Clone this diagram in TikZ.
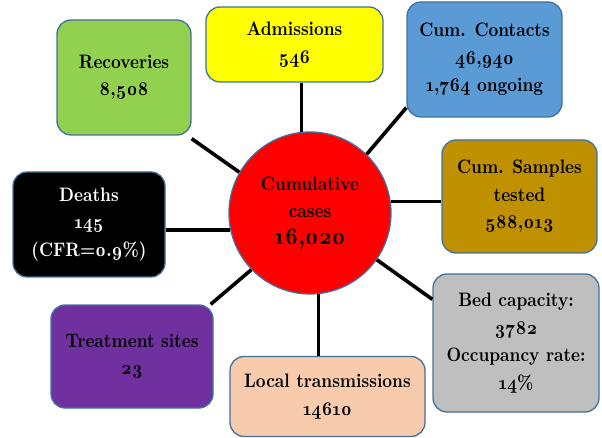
\documentclass[tikz,border=0pt]{standalone}
\usepackage{fontspec}
\newfontfamily\lmb{lmroman10-bold.otf}[Numbers=OldStyle, FakeStretch=0.87]
\definecolor{edge}{HTML}{41719C}
\definecolor{cgreen}{HTML}{92D050}
\definecolor{cyellow}{HTML}{FFFF00}
\definecolor{cblue}{HTML}{5B9BD5}
\definecolor{cgold}{HTML}{BF9000}
\definecolor{cgray}{HTML}{BFBFBF}
\definecolor{cpeach}{HTML}{F8CBAD}
\definecolor{cpurple}{HTML}{7030A0}
\definecolor{cred}{HTML}{FF0000}
\tikzset{
  box/.style={draw=edge, line width=1.3pt, rounded corners=14pt, align=center,
    font=\lmb\fontsize{19.5}{27.5}\selectfont, inner sep=0pt},
  link/.style={line width=3.6pt, black},
}
\begin{document}
\begin{tikzpicture}[x=1pt,y=-1pt]
\useasboundingbox (0,0) rectangle (602,438);
\node[circle, draw=edge, line width=1.3pt, fill=cred, minimum size=162pt, inner sep=0pt, align=center,
  font=\lmb\fontsize{19.5}{27.5}\selectfont] (c) at (310,213)
  {Cumulative\\cases\\[-1pt]{\fontsize{24}{28}\selectfont 16,020}};
\node[box, fill=cgreen, minimum width=134pt, minimum height=115pt] (rec) at (124,77.5) {Recoveries\\8,508};
\node[box, fill=cyellow, minimum width=177pt, minimum height=75pt] (adm) at (294.5,44.5) {Admissions\\546};
\node[box, fill=cblue, minimum width=155pt, minimum height=115pt] (con) at (484.5,59.5) {Cum. Contacts\\46,940\\1,764 ongoing};
\node[box, fill=cgold, minimum width=155pt, minimum height=113pt] (sam) at (519.5,196.5) {Cum. Samples\\tested\\588,013};
\node[box, fill=cgray, minimum width=166pt, minimum height=138pt] (bed) at (516,343) {Bed capacity:\\3782\\Occupancy rate:\\14\%};
\node[box, fill=cpeach, minimum width=195pt, minimum height=80pt] (loc) at (327.5,396.5) {Local transmissions\\14610};
\node[box, fill=cpurple, minimum width=162pt, minimum height=103pt] (tre) at (132,356.5) {Treatment sites\\23};
\node[box, fill=black, text=white, minimum width=152pt, minimum height=105pt] (dea) at (89,224.5) {Deaths\\145\\(CFR=0.9\%)};
\draw[link] (c.150) -- ([shift={(0,3)}]rec.south east);
\draw[link] (c.96) -- (c.96 |- adm.south);
\draw[link] (c.46) -- ([shift={(0,-10)}]con.south west);
\draw[link] (c.8) -- (c.8 -| sam.west);
\draw[link] (c.-35) -- ([shift={(0,26)}]bed.north west);
\draw[link] (c.-84) -- (c.-84 |- loc.north);
\draw[link] (c.-136) -- ([shift={(-3,0)}]tre.north east);
\draw[link] (c.192) -- (c.192 -| dea.east);
\end{tikzpicture}
\end{document}
